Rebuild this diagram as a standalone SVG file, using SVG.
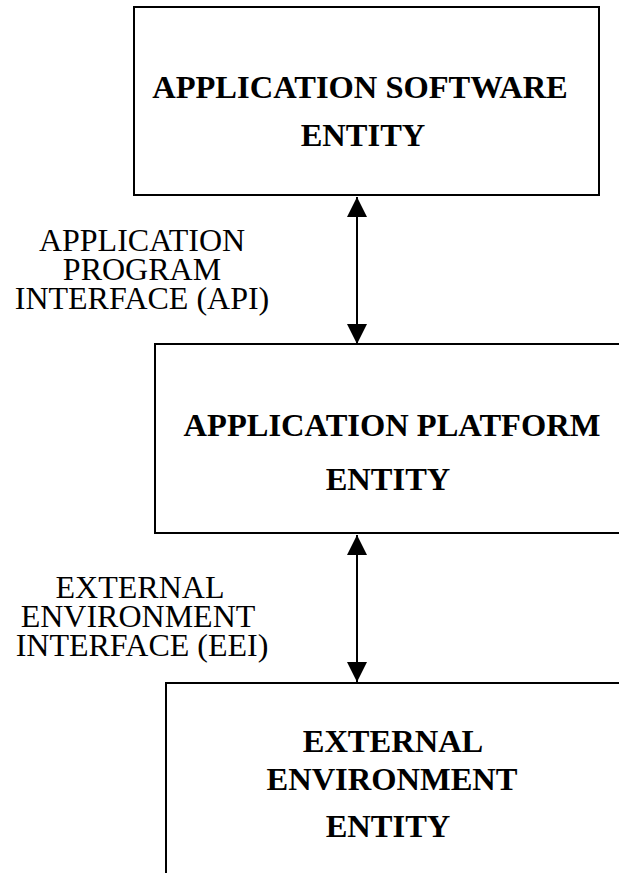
<svg xmlns="http://www.w3.org/2000/svg" width="619" height="873" viewBox="0 0 619 873">
<style>
.box{fill:#fff;stroke:#000;stroke-width:2}
.t{font-family:"Liberation Serif","Times New Roman",serif;font-weight:bold;font-size:32.5px;fill:#000;text-anchor:middle}
.l{font-family:"Liberation Serif","Times New Roman",serif;font-size:32px;fill:#000;text-anchor:middle}
.c{stroke:#000;stroke-width:2;fill:none}
</style>
<defs>
<marker id="ah" viewBox="0 0 20 20" refX="20" refY="10" markerWidth="20" markerHeight="20" markerUnits="userSpaceOnUse" orient="auto-start-reverse">
<path d="M0,0 L20,10 L0,20 Z" fill="#000"/>
</marker>
</defs>
<rect width="619" height="873" fill="#fff"/>
<g id="node-app-software">
<rect class="box" x="134" y="7" width="465" height="188"/>
<text class="t"><tspan x="360" y="98">APPLICATION SOFTWARE</tspan><tspan x="363" y="146">ENTITY</tspan></text>
</g>
<g id="node-app-platform">
<rect class="box" x="155" y="344" width="480" height="189"/>
<text class="t"><tspan x="392" y="436">APPLICATION PLATFORM</tspan><tspan x="388" y="490">ENTITY</tspan></text>
</g>
<g id="node-external">
<rect class="box" x="166" y="683" width="480" height="200"/>
<text class="t"><tspan x="393" y="752">EXTERNAL</tspan><tspan x="392" y="790">ENVIRONMENT</tspan><tspan x="388" y="837">ENTITY</tspan></text>
</g>
<g id="connectors">
<line class="c" x1="357" y1="197" x2="357" y2="344" marker-start="url(#ah)" marker-end="url(#ah)"/>
<line class="c" x1="357" y1="535" x2="357" y2="682" marker-start="url(#ah)" marker-end="url(#ah)"/>
</g>
<g id="label-api">
<text class="l"><tspan x="142" y="251">APPLICATION</tspan><tspan x="142" y="280">PROGRAM</tspan><tspan x="142" y="309">INTERFACE (API)</tspan></text>
</g>
<g id="label-eei">
<text class="l"><tspan x="140" y="598">EXTERNAL</tspan><tspan x="138" y="627">ENVIRONMENT</tspan><tspan x="142" y="656">INTERFACE (EEI)</tspan></text>
</g>
</svg>
